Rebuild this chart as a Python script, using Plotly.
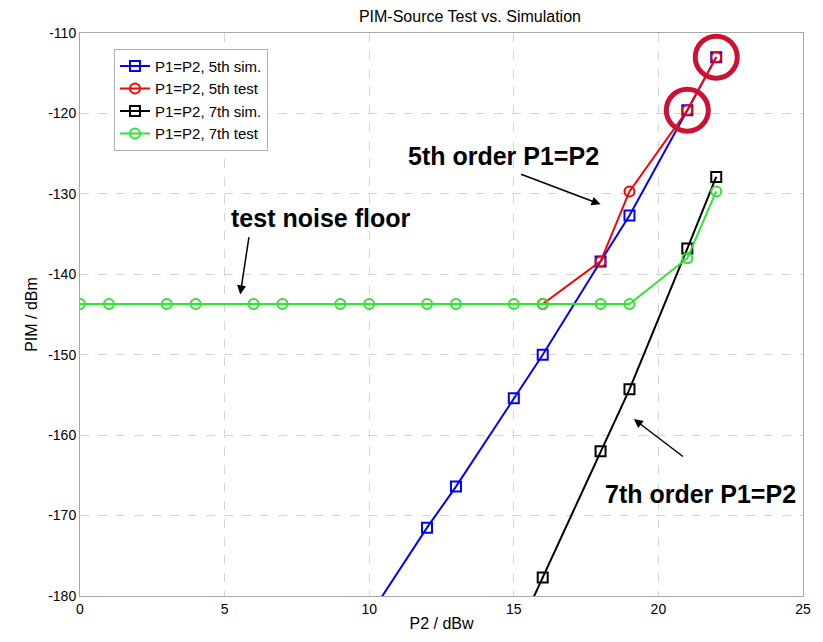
import plotly.graph_objects as go

# Data
sim5_x = [10, 12, 13, 15, 16, 18, 19, 21, 22]
sim5_y = [-182.5, -171.5, -166.4, -155.4, -150.0, -138.4, -132.7, -119.6, -113.0]

test5_x = [16, 18, 19, 21, 22]
test5_y = [-143.7, -138.4, -129.7, -119.6, -113.0]

sim7_x = [15, 16, 18, 19, 21, 22]
sim7_y = [-185.5, -177.7, -162.0, -154.3, -136.8, -127.9]

test7_x = [0, 1, 3, 4, 6, 7, 9, 10, 12, 13, 15, 16, 18, 19, 21, 22]
test7_y = [-143.7] * 14 + [-138.0, -129.7]

highlight_x = [21, 22]
highlight_y = [-119.6, -113.0]

ytick_vals = [-180, -170, -160, -150, -140, -130, -120, -110]
ytick_text = ["-180", "-170", "-160", "-150", "-140", "-130", "-120", "-110"]
xtick_vals = [0, 5, 10, 15, 20, 25]
xtick_text = ["0", "5", "10", "15", "20", "25"]

FONT = "Liberation Sans, Arial, sans-serif"

fig = go.Figure()
series = [
    ("P1=P2, 5th sim.", sim5_x, sim5_y, "#0000ff", "square-open"),
    ("P1=P2, 5th test", test5_x, test5_y, "#ff0000", "circle-open"),
    ("P1=P2, 7th sim.", sim7_x, sim7_y, "#000000", "square-open"),
    ("P1=P2, 7th test", test7_x, test7_y, "#2ee62e", "circle-open"),
]
for name, xs, ys, col, sym in series:
    fig.add_trace(go.Scatter(
        x=xs, y=ys, name=name, mode="lines+markers",
        line=dict(color=col, width=2),
        marker=dict(symbol=sym, size=10, color=col, line=dict(color=col, width=2)),
        cliponaxis=True,
    ))

# highlight circles
for hx, hy in zip(highlight_x, highlight_y):
    fig.add_shape(type="circle", xref="x", yref="y",
                  xsizemode="pixel", ysizemode="pixel",
                  xanchor=hx, yanchor=hy, x0=-21, x1=21, y0=-21, y1=21,
                  line=dict(color="#cc1133", width=5))

# text annotations with arrows
fig.add_annotation(x=8.3, y=-133.0, xref="x", yref="y", text="<b>test noise floor</b>",
                   showarrow=False, font=dict(family=FONT, size=25, color="black"))
fig.add_annotation(x=5.54, y=-142.5, ax=5.85, ay=-135.2, xref="x", yref="y",
                   axref="x", ayref="y", text="", showarrow=True,
                   arrowhead=2, arrowsize=1.2, arrowwidth=1.5, arrowcolor="black")

fig.add_annotation(x=14.63, y=-125.3, xref="x", yref="y", text="<b>5th order P1=P2</b>",
                   showarrow=False, font=dict(family=FONT, size=25, color="black"))
fig.add_annotation(x=18.0, y=-131.3, ax=15.2, ay=-127.5, xref="x", yref="y",
                   axref="x", ayref="y", text="", showarrow=True,
                   arrowhead=2, arrowsize=1.2, arrowwidth=1.5, arrowcolor="black")

fig.add_annotation(x=21.45, y=-167.3, xref="x", yref="y", text="<b>7th order P1=P2</b>",
                   showarrow=False, font=dict(family=FONT, size=25, color="black"))
fig.add_annotation(x=19.15, y=-158.0, ax=20.9, ay=-162.8, xref="x", yref="y",
                   axref="x", ayref="y", text="", showarrow=True,
                   arrowhead=2, arrowsize=1.2, arrowwidth=1.5, arrowcolor="black")

axis_common = dict(
    showgrid=True, gridcolor="#d4d4d4", griddash="dash", gridwidth=1,
    showline=True, linecolor="#a8a8a8", linewidth=1, mirror=True,
    zeroline=False, ticks="", tickfont=dict(family=FONT, size=14, color="black"),
)

fig.update_layout(
    width=823, height=642,
    margin=dict(l=80, r=17, t=33, b=42),
    paper_bgcolor="white", plot_bgcolor="white",
    font=dict(family=FONT, size=14, color="black"),
    title=dict(text="PIM-Source Test vs. Simulation", x=0.571, xanchor="center",
               y=0.975, yanchor="middle", font=dict(family=FONT, size=16, color="black")),
    xaxis=dict(range=[0, 25], tickmode="array", tickvals=xtick_vals, ticktext=xtick_text,
               title=dict(text="P2 / dBw", standoff=2, font=dict(family=FONT, size=16)),
               **axis_common),
    yaxis=dict(range=[-180, -110], tickmode="array", tickvals=ytick_vals, ticktext=ytick_text,
               title=dict(text="PIM / dBm", standoff=6, font=dict(family=FONT, size=16)),
               **axis_common),
    legend=dict(x=0.047, y=0.972, xanchor="left", yanchor="top",
                bgcolor="white", bordercolor="#b0b0b0", borderwidth=1,
                font=dict(family=FONT, size=15, color="black"),
                tracegroupgap=0, itemwidth=30),
    showlegend=True,
)

fig.write_html("out.html")
